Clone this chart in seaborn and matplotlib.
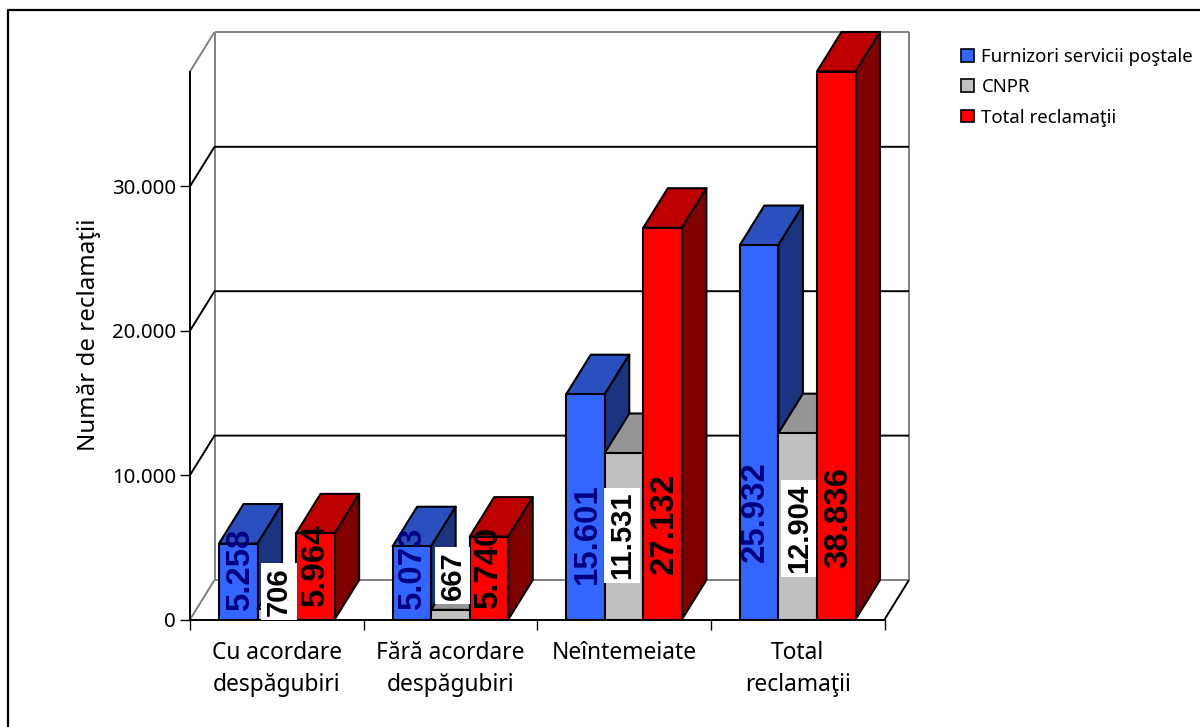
import matplotlib
matplotlib.use("Agg")
import matplotlib.pyplot as plt
from matplotlib.patches import Polygon, Patch
from matplotlib.lines import Line2D
import pandas as pd
import seaborn as sns

categories = ["Cu acordare\ndespăgubiri", "Fără acordare\ndespăgubiri", "Neîntemeiate", "Total\nreclamaţii"]
series_names = ["Furnizori servicii poştale", "CNPR", "Total reclamaţii"]
furnizori = [5258, 5073, 15601, 25932]
cnpr = [706, 667, 11531, 12904]
total = [5964, 5740, 27132, 38836]
value_labels = [["5.258", "5.073", "15.601", "25.932"],
                ["706", "667", "11.531", "12.904"],
                ["5.964", "5.740", "27.132", "38.836"]]
y_ticks = [0, 10000, 20000, 30000]
y_tick_labels = ["0", "10.000", "20.000", "30.000"]

# label placement in pixels, relative to the foot of each bar
label_rise = [[50, 51, 86, 108], [28, 44, 84, 91], [54, 52, 96, 102]]
label_shift = [[2, 1, 2, -4], [2, 2, -2, 1], [0, 0, 2, 2]]
label_size = [23.8, 21, 23.8]

front = ["#3366FF", "#C0C0C0", "#FF0000"]
top_face = ["#2A50BF", "#969696", "#BF0000"]
side_face = ["#1A3480", "#808080", "#800000"]
label_colors = ["#000080", "black", "black"]

W, H = 1200, 727
AX_L, AX_R, AX_T, AX_B = 190, 884.5, 71.5, 619.5
Y_PER_PX = 10000 / 144.4
DX_PX, DY_PX = 24.5, 39.5
TEXT_FONT = "Noto Sans"

sns.set_theme(style="white")
plt.rcParams["font.family"] = [TEXT_FONT, "DejaVu Sans"]

fig = plt.figure(figsize=(W / 100, H / 100), dpi=100, facecolor="white")
ax = fig.add_axes([AX_L / W, 1 - AX_B / H, (AX_R - AX_L) / W, (AX_B - AX_T) / H])
ax.patch.set_visible(False)

df = pd.DataFrame({
    "categorie": categories * 3,
    "serie": [n for n in series_names for _ in categories],
    "valoare": furnizori + cnpr + total,
})
sns.barplot(data=df, x="categorie", y="valoare", hue="serie", hue_order=series_names,
            order=categories, palette=front, width=0.666, gap=0, dodge=True,
            edgecolor="black", linewidth=1.5, saturation=1, errorbar=None,
            legend=False, ax=ax, zorder=3)

y_max = (AX_B - AX_T) * Y_PER_PX
ax.set_xlim(-0.5, 3.5)
ax.set_ylim(0, y_max)
cat_per_px = 4 / (AX_R - AX_L)
dx = DX_PX * cat_per_px
dy = DY_PX * Y_PER_PX

# back wall, side wall and floor
GRAY = "#808080"
def seg(xs, ys, color, lw=1.4, z=1):
    ax.add_line(Line2D(xs, ys, color=color, lw=lw, clip_on=False, zorder=z,
                       solid_capstyle="butt"))

left, right = -0.5, 3.5
seg([left + dx, left + dx], [dy, y_max + dy], GRAY)
seg([right + dx, right + dx], [dy, y_max + dy], GRAY)
seg([left + dx, right + dx], [y_max + dy] * 2, GRAY)
seg([left, left + dx], [y_max, y_max + dy], GRAY)
seg([left + dx, right + dx], [dy, dy], GRAY)
seg([left, left + dx], [0, dy], GRAY)
seg([right, right + dx], [0, dy], "black")
for t in y_ticks[1:]:
    seg([left, left + dx, right + dx], [t, t + dy, t + dy], "black")

# 3D faces for every bar, painted from left to right
bars = list(ax.patches)
n_cat = len(categories)
for s in range(len(series_names)):
    for c in range(n_cat):
        bar = bars[s * n_cat + c]
        x0, x1 = bar.get_x(), bar.get_x() + bar.get_width()
        h = min(bar.get_height(), y_max)
        z = 3 + c + (s + 1) * 0.1
        bar.set_zorder(z)
        ax.add_patch(Polygon([(x0, h), (x0 + dx, h + dy), (x1 + dx, h + dy), (x1, h)],
                             closed=True, fc=top_face[s], ec="black", lw=1.5,
                             clip_on=False, zorder=z - 0.01, joinstyle="round"))
        ax.add_patch(Polygon([(x1, 0), (x1 + dx, dy), (x1 + dx, h + dy), (x1, h)],
                             closed=True, fc=side_face[s], ec="black", lw=1.5,
                             clip_on=False, zorder=z - 0.01, joinstyle="round"))
        if h == y_max:
            seg([x0, x1], [h, h], "black", lw=1.5, z=z + 0.01)

# data labels
for s in range(len(series_names)):
    for c in range(n_cat):
        bar = bars[s * n_cat + c]
        box = dict(fc="white", ec="none", pad=2.8) if s == 1 else None
        ax.annotate(value_labels[s][c],
                    xy=(bar.get_x() + bar.get_width() / 2, 0),
                    xytext=(label_shift[s][c], label_rise[s][c]),
                    textcoords="offset pixels", rotation=90, ha="center", va="center",
                    fontsize=label_size[s], fontweight="bold", family="Liberation Sans",
                    color=label_colors[s], bbox=box, zorder=50, annotation_clip=False)

# axes
for name in ("top", "right"):
    ax.spines[name].set_visible(False)
for name in ("left", "bottom"):
    ax.spines[name].set_color("black")
    ax.spines[name].set_linewidth(1.4)
    ax.spines[name].set_zorder(2)
ax.set_yticks(y_ticks, y_tick_labels)
ax.set_xticks([-0.5, 0.5, 1.5, 2.5, 3.5], minor=True)
ax.set_xticks(range(n_cat), categories)
ax.tick_params(axis="y", length=7.2, width=1, color="black", labelsize=14.7, pad=3,
               left=True, labelcolor="black")
ax.tick_params(axis="x", which="major", length=0, labelsize=16.4, pad=15.7, labelcolor="black")
ax.tick_params(axis="x", which="minor", length=7.2, width=1, color="black", bottom=True)
ax.set_xlabel("")
ax.set_ylabel("Număr de reclamaţii", fontsize=17.3, color="black", va="center")
ax.yaxis.set_label_coords(89 / W, 1 - 335 / H, transform=fig.transFigure)
for lab in ax.get_xticklabels():
    lab.set_linespacing(1.43)

# outer frame, running off the picture on the right and at the bottom
fig.add_artist(Line2D([7.5 / W, 7.5 / W, 1], [0, 1 - 10 / H, 1 - 10 / H],
                      transform=fig.transFigure, color="black", lw=1.6))

# legend
handles = [Patch(fc=f, ec="black", lw=1.2) for f in front]
leg = ax.legend(handles, series_names, loc="upper left",
                bbox_to_anchor=(961 / W, 1 - 48 / H), bbox_transform=fig.transFigure,
                frameon=False, fontsize=13.4, handlelength=0.68, handleheight=0.68,
                handletextpad=0.42, labelspacing=0.66, borderpad=0, borderaxespad=0)
for t in leg.get_texts():
    t.set_color("black")

fig.savefig("out.png", dpi=100, facecolor="white")
